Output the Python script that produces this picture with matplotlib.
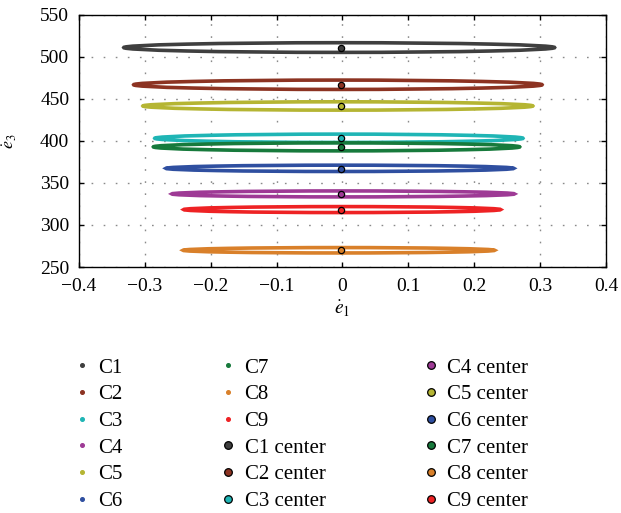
import matplotlib
matplotlib.use('Agg')
import matplotlib.pyplot as plt
from matplotlib.patches import Ellipse
from matplotlib.lines import Line2D

plt.rcParams.update({
    'font.family': 'Liberation Serif',
    'mathtext.fontset': 'stix',
    'font.size': 14,
    'axes.linewidth': 1.0,
})

# cluster data
names = ['C1', 'C2', 'C3', 'C4', 'C5', 'C6', 'C7', 'C8', 'C9']
colors = ['#3f3f3f', '#8c3322', '#1fb5b5', '#9e3a95', '#b5b533',
          '#2f4fa0', '#177a3c', '#d9802a', '#ee2224']
x_left = [-0.332, -0.317, -0.285, -0.259, -0.303, -0.268, -0.287, -0.242, -0.241]
x_right = [0.322, 0.303, 0.274, 0.261, 0.289, 0.260, 0.269, 0.231, 0.240]
y_upper = [516.5, 472.1, 407.9, 340.4, 446.3, 371.0, 397.5, 273.1, 321.8]
y_lower = [505.0, 461.0, 398.0, 333.3, 436.4, 363.5, 388.0, 266.7, 314.7]
center_x = [-0.002, -0.002, -0.002, -0.002, -0.002, -0.002, -0.002, -0.002, -0.002]
center_y = [510.5, 466.5, 402.8, 336.9, 440.8, 367.0, 392.8, 269.9, 318.3]

xticks = [-0.4, -0.3, -0.2, -0.1, 0, 0.1, 0.2, 0.3, 0.4]
yticks = [250, 300, 350, 400, 450, 500, 550]

fig = plt.figure(figsize=(6.21, 5.13), dpi=100)
ax = fig.add_axes([0.1272, 0.4795, 0.8486, 0.4922])

# each cluster is a thin ring of points around its center
for i in range(len(names)):
    cx = (x_left[i] + x_right[i]) / 2
    cy = (y_upper[i] + y_lower[i]) / 2
    ell = Ellipse((cx, cy), x_right[i] - x_left[i], y_upper[i] - y_lower[i],
                  fill=False, edgecolor=colors[i], lw=2.6, zorder=3)
    ax.add_patch(ell)

for i in range(len(names)):
    ax.plot(center_x[i], center_y[i], 'o', ms=4.5, mfc=colors[i], mec='black',
            mew=0.9, zorder=5)

ax.set_xlim(-0.4, 0.4)
ax.set_ylim(250, 550)
ax.set_xticks(xticks)
ax.set_yticks(yticks)
ax.set_xticklabels(['\u22120.4', '\u22120.3', '\u22120.2', '\u22120.1', '0',
                    '0.1', '0.2', '0.3', '0.4'])
ax.tick_params(direction='in', top=True, right=True, length=3.5, width=1.0,
               labelsize=14)
ax.tick_params(axis='x', pad=8)
ax.tick_params(axis='y', pad=7)
ax.grid(True, color='#8a8a8a', linestyle=(0, (1.2, 7.5)), linewidth=1.0)
ax.set_axisbelow(True)
ax.set_xlabel(r'$\dot{e}_1$', fontsize=14)
ax.set_ylabel(r'$\dot{e}_3$', fontsize=13)
ax.xaxis.set_label_coords(0.5, -0.125)
ax.yaxis.set_label_coords(-0.114, 0.5)

handles = []
labels = []
for i in range(len(names)):
    handles.append(Line2D([], [], marker='o', ls='none', ms=2.6, color=colors[i]))
    labels.append(names[i])
for i in range(len(names)):
    handles.append(Line2D([], [], marker='o', ls='none', ms=5.5, mfc=colors[i],
                          mec='black', mew=0.9))
    labels.append(names[i] + ' center')

fig.legend(handles, labels, loc='upper left', bbox_to_anchor=(0.1148, 0.302),
           ncol=3, frameon=False, fontsize=15, borderpad=0, borderaxespad=0,
           handlelength=1.0, handletextpad=0.3, columnspacing=4.55,
           labelspacing=0.34)

fig.savefig('out.png', dpi=100)
